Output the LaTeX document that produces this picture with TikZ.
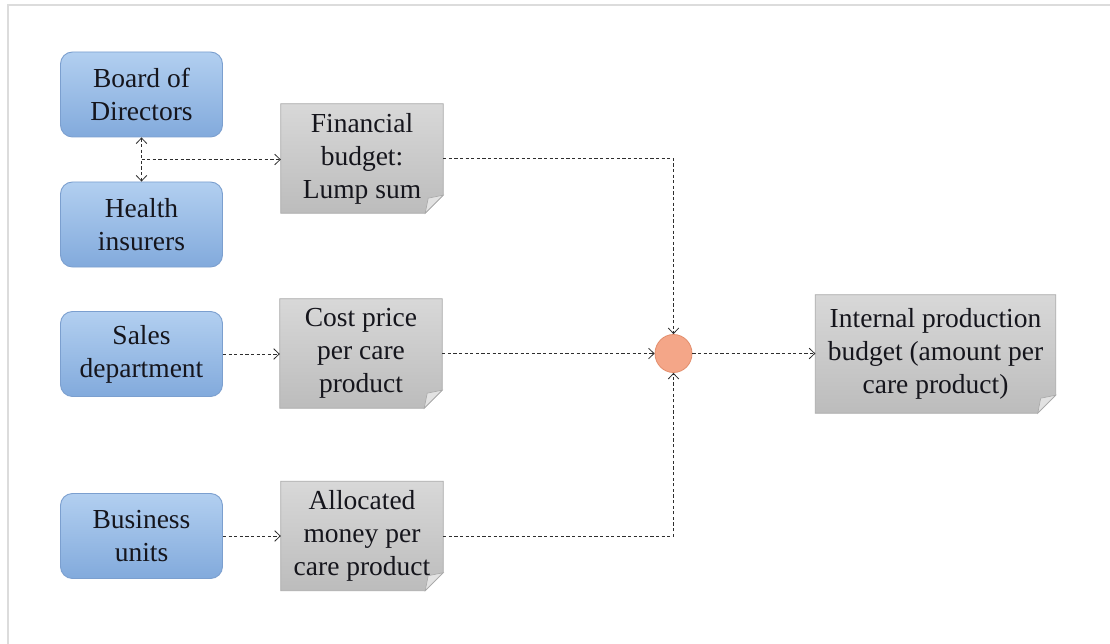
\documentclass[tikz,border=0pt]{standalone}
\usepackage{fontspec}
\setmainfont{Liberation Serif}
\newfontfamily\labelfont{Liberation Serif}
\usetikzlibrary{arrows.meta,calc,backgrounds,shapes.geometric}

\definecolor{txt}{HTML}{15151C}
\definecolor{blueTop}{HTML}{B2CFF0}
\definecolor{blueBot}{HTML}{82AADC}
\definecolor{blueLine}{HTML}{7B9FCF}
\definecolor{greyTop}{HTML}{D8D8D8}
\definecolor{greyBot}{HTML}{BCBCBC}
\definecolor{greyLine}{HTML}{A8A8A8}
\definecolor{foldFill}{HTML}{E2E2E2}
\definecolor{dotFill}{HTML}{F4A688}
\definecolor{dotLine}{HTML}{E38E6C}
\definecolor{frameGrey}{HTML}{DCDCDC}
\definecolor{wire}{HTML}{2E2E2E}

\tikzset{
  label font/.style={font=\labelfont\fontsize{27.5}{33}\selectfont, text=txt, align=center},
  bluebox/.style={label font, rounded corners=12pt, draw=blueLine, line width=0.9pt,
    top color=blueTop, bottom color=blueBot, minimum width=162pt, minimum height=85pt, inner sep=0pt},
  notebox/.style={label font, minimum width=162pt, minimum height=109pt, inner sep=0pt},
  dot/.style={ellipse, draw=dotLine, fill=dotFill, line width=0.8pt,
    minimum width=37pt, minimum height=38pt, inner sep=0pt},
  barb/.tip={Straight Barb[length=5.5pt,width=10.5pt,line width=0.8pt]},
  flow/.style={draw=wire, line width=0.8pt, dash pattern=on 3.2pt off 2.4pt, -barb},
  both flow/.style={flow, barb-barb},
  notefill/.style={top color=greyTop, bottom color=greyBot, draw=greyLine, line width=0.7pt},
  foldstyle/.style={fill=foldFill, draw=greyLine, line width=0.6pt},
}

% sticky-note background with a folded lower-right corner
\newcommand\notebackground[1]{%
  \begin{scope}[on background layer]
    \path[notefill] (#1.north west) -- (#1.north east)
      -- ($(#1.south east)+(0,18pt)$) -- ($(#1.south east)+(-18pt,0)$)
      -- (#1.south west) -- cycle;
    \path[foldstyle] ($(#1.south east)+(0,18pt)$) -- ($(#1.south east)+(-18pt,0)$)
      -- ($(#1.south east)+(-15pt,15pt)$) -- cycle;
  \end{scope}}

\begin{document}
\begin{tikzpicture}[x=1pt,y=-1pt]
  \useasboundingbox (0,0) rectangle (1110,644);
  \begin{scope}[on background layer]
    \fill[white] (0,0) rectangle (1110,644);
  \end{scope}
  % outer frame (top and left edges)
  \draw[frameGrey, line width=2pt] (1110,5) -- (7.5,5) -- (7.5,644);

  % sources
  \node[bluebox] (bod)   at (141.5,94.5)  {Board of\\Directors};
  \node[bluebox] (hi)    at (141.5,224.5) {Health\\insurers};
  \node[bluebox] (sales) at (141.5,354)   {Sales\\department};
  \node[bluebox] (bu)    at (141.5,536)   {Business\\units};

  % budget notes
  \node[notebox] (fin)   at (362,158.5) {Financial\\budget:\\Lump sum};
  \node[notebox] (cost)  at (361,353.5) {Cost price\\per care\\product};
  \node[notebox] (alloc) at (362,536)   {Allocated\\money per\\care product};
  \node[notebox, minimum width=240pt, minimum height=118pt] (ipb) at (935.5,354)
    {Internal production\\budget (amount per\\care product)};
  \notebackground{fin}
  \notebackground{cost}
  \notebackground{alloc}
  \notebackground{ipb}

  % merge point
  \node[dot] (merge) at (673.5,353.5) {};

  % connectors
  \coordinate (link) at ($(bod.south)!0.5!(hi.north)$);
  \draw[both flow] (bod.south) -- (hi.north);
  \draw[flow] (link) -- (link -| fin.west);
  \draw[flow] (fin.east) -| (merge.north);
  \draw[flow] (sales.east) -- (sales.east -| cost.west);
  \draw[flow] (cost.east) -- (cost.east -| merge.west);
  \draw[flow] (alloc.east) -| (merge.south);
  \draw[flow] (bu.east) -- (bu.east -| alloc.west);
  \draw[flow] (merge.east) -- (merge.east -| ipb.west);
\end{tikzpicture}
\end{document}
